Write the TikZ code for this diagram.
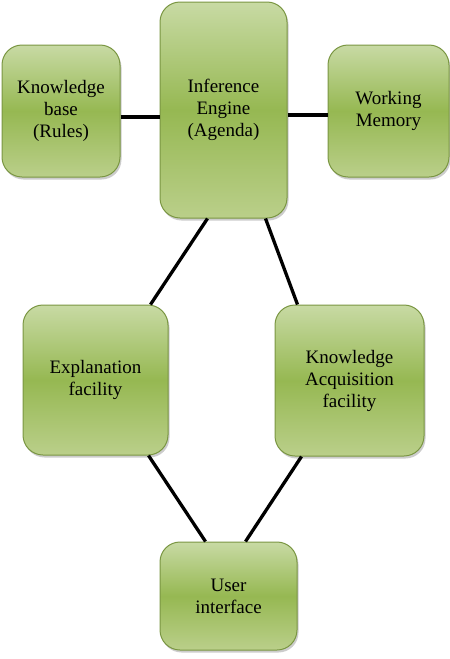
\documentclass[tikz,border=0pt]{standalone}
\usepackage{fontspec}
\setmainfont{Liberation Serif}
\usetikzlibrary{shadows,calc}
\definecolor{boxtop}{RGB}{200,218,164}
\definecolor{boxmid}{RGB}{150,184,82}
\definecolor{boxbot}{RGB}{186,207,138}
\definecolor{boxedge}{RGB}{122,150,66}

\begin{document}
\begin{tikzpicture}[
    x=1pt, y=-1pt,
    module/.style={rectangle, rounded corners=20pt, draw=boxedge, line width=1pt,
                   top color=boxtop, bottom color=boxbot, middle color=boxmid,
                   align=center, font=\fontsize{19}{22}\selectfont,
                   drop shadow={opacity=0.4, shadow xshift=1.5pt, shadow yshift=-2.5pt}},
    link/.style={line width=3.3pt, black}
]
\useasboundingbox (0,0) rectangle (450,659);

% Top row
\node[module, minimum width=118pt, minimum height=132pt] (kb) at (61,111) {Knowledge\\base\\(Rules)};
\node[module, minimum width=127pt, minimum height=216pt] (ie) at (223.5,110) {Inference\\Engine\\(Agenda)};
\node[module, minimum width=121pt, minimum height=132pt] (wm) at (388.5,111) {Working\\Memory};

% Middle row
\node[module, minimum width=145pt, minimum height=150pt] (ex) at (95.5,380) {Explanation\\facility};
\node[module, minimum width=149pt, minimum height=151pt] (ka) at (349.5,380.5) {Knowledge\\Acquisition\\facility};

% Bottom
\node[module, minimum width=137pt, minimum height=108pt] (ui) at (228.5,596) {User\\interface};

% Connections
\draw[link] ([yshift=-6pt]kb.east) -- ([yshift=-6pt]kb.east -| ie.west);
\draw[link] ([yshift=-5pt]ie.east) -- ([yshift=-5pt]ie.east -| wm.west);
\draw[link] ([xshift=-16pt]ie.south) -- ([xshift=55pt]ex.north);
\draw[link] ([xshift=42pt]ie.south) -- ([xshift=-52pt]ka.north);
\draw[link] ([xshift=53pt]ex.south) -- ([xshift=-23pt]ui.north);
\draw[link] ([xshift=-48pt]ka.south) -- ([xshift=17pt]ui.north);

\end{tikzpicture}
\end{document}
